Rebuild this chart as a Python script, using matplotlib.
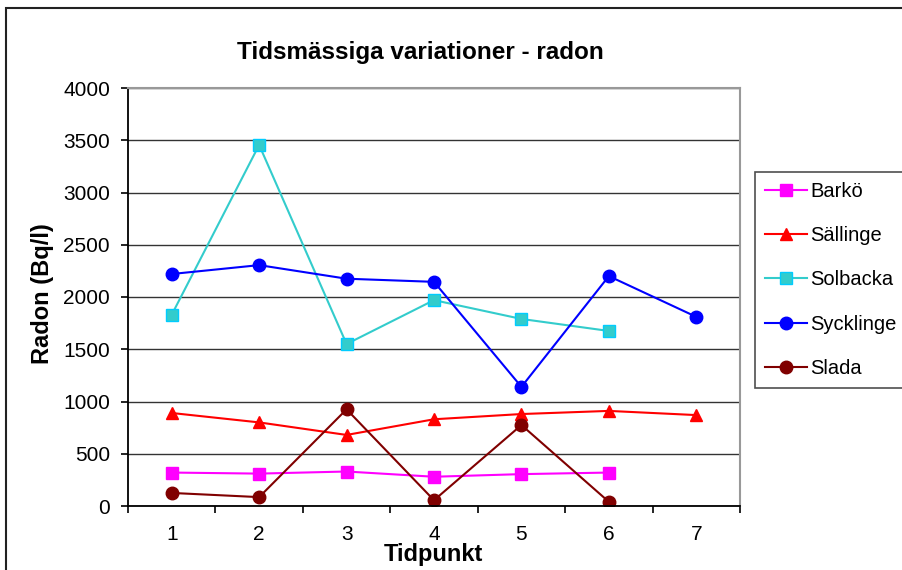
import matplotlib.pyplot as plt
from matplotlib.patches import Rectangle

plt.rcParams['font.family'] = ['Liberation Sans', 'DejaVu Sans']

tidpunkt = [1, 2, 3, 4, 5, 6, 7]
barko = [320, 310, 330, 280, 305, 320]
sallinge = [890, 800, 680, 830, 880, 910, 870]
solbacka = [1830, 3455, 1550, 1970, 1790, 1675]
sycklinge = [2220, 2305, 2175, 2145, 1140, 2200, 1810]
slada = [125, 85, 925, 55, 775, 40]
yticks = [0, 500, 1000, 1500, 2000, 2500, 3000, 3500, 4000]

fig = plt.figure(figsize=(9.03, 5.7), dpi=100)
ax = fig.add_axes([128 / 903, 64 / 570, 612 / 903, 418 / 570])

# outer chart border (right and bottom edges fall outside the picture)
fig.patches.append(Rectangle((6 / 903, -0.05), 1.0, 1 - 8 / 570 + 0.05,
                             transform=fig.transFigure, fill=False,
                             edgecolor='#222222', linewidth=1.5))

ax.plot(tidpunkt[:6], barko, color='#FF00FF', marker='s', markersize=8,
        linewidth=1.5, label='Barkö')
ax.plot(tidpunkt, sallinge, color='#FF0000', marker='^', markersize=9,
        linewidth=1.5, label='Sällinge')
ax.plot(tidpunkt[:6], solbacka, color='#33CCCC', marker='s', markersize=8,
        markerfacecolor='#33CCCC', markeredgecolor='#00CCFF',
        linewidth=1.5, label='Solbacka')
ax.plot(tidpunkt, sycklinge, color='#0000FF', marker='o', markersize=9,
        linewidth=1.5, label='Sycklinge')
ax.plot(tidpunkt[:6], slada, color='#800000', marker='o', markersize=9,
        linewidth=1.5, label='Slada')

ax.set_xlim(0.5, 7.5)
ax.set_ylim(0, 4000)
ax.set_yticks(yticks)
ax.set_xticks(tidpunkt)
ax.set_xticks([i + 0.5 for i in range(8)], minor=True)
ax.tick_params(axis='x', which='major', length=0, pad=14, labelsize=15)
ax.tick_params(axis='x', which='minor', length=5, direction='out', width=1.2)
ax.tick_params(axis='y', length=5, direction='out', width=1.2, pad=8,
               labelsize=15)
ax.grid(axis='y', color='#333333', linewidth=1)
ax.set_axisbelow(True)

for side in ['top', 'right']:
    ax.spines[side].set_color('#999999')
    ax.spines[side].set_linewidth(1.5)
ax.spines['left'].set_linewidth(1.3)
ax.spines['bottom'].set_linewidth(1.3)

fig.text(420 / 903, 1 - 52 / 570, 'Tidsmässiga variationer - radon',
         fontsize=17.5, fontweight='bold', ha='center', va='center')
fig.text(43 / 903, 1 - 294 / 570, 'Radon (Bq/l)', fontsize=17, fontweight='bold',
         rotation=90, ha='center', va='center')
fig.text(433 / 903, 1 - 555 / 570, 'Tidpunkt', fontsize=17, fontweight='bold',
         ha='center', va='center')

leg = fig.legend(loc='upper left', bbox_to_anchor=(755 / 903, 1 - 172 / 570),
                 borderaxespad=0, fontsize=14.5, frameon=True, fancybox=False,
                 edgecolor='#222222', labelspacing=1.25, handlelength=2.1,
                 handletextpad=0.15, borderpad=0.5)
leg.get_frame().set_linewidth(1.2)

fig.savefig('out.png', dpi=100)
